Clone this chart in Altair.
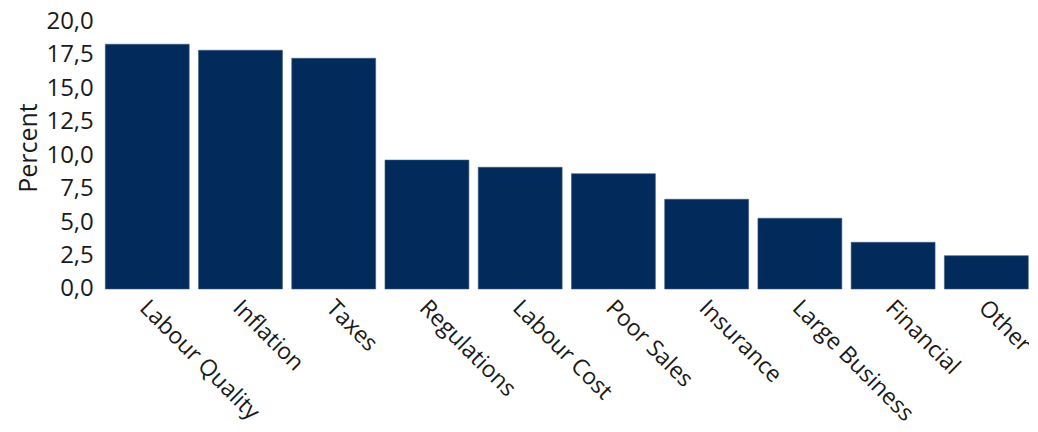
import altair as alt
import pandas as pd

categories = ["Labour Quality", "Inflation", "Taxes", "Regulations", "Labour Cost",
              "Poor Sales", "Insurance", "Large Business", "Financial", "Other"]
values = [18.3, 17.85, 17.25, 9.64, 9.1, 8.62, 6.71, 5.29, 3.49, 2.49]
y_ticks = [0, 2.5, 5, 7.5, 10, 12.5, 15, 17.5, 20]

df = pd.DataFrame({"Category": categories, "Percent": values})

FONT = "Open Sans"

chart = alt.Chart(df).mark_bar(color="#022B5C", stroke="#3d5a80", strokeWidth=0.6).encode(
    x=alt.X("Category:N", sort=categories,
            scale=alt.Scale(paddingInner=0.1, paddingOuter=0),
            axis=alt.Axis(title=None, labelAngle=45, labelAlign="left", labelBaseline="top",
                          labelPadding=7, labelOffset=4, domain=False, ticks=False,
                          labelFont=FONT, labelFontSize=23, labelColor="#1a1a1a",
                          labelOverlap=False)),
    y=alt.Y("Percent:Q", scale=alt.Scale(domain=[0, 20], nice=False),
            axis=alt.Axis(title="Percent", values=y_ticks,
                          labelExpr="replace(format(datum.value, '.1f'), '.', ',')",
                          domain=False, ticks=False, grid=False, labelPadding=12,
                          labelFont=FONT, labelFontSize=24, labelColor="#1a1a1a",
                          titleFont=FONT, titleFontSize=25, titleFontWeight="normal",
                          titleColor="#1a1a1a", titleX=-77, titleY=126,
                          titleBaseline="middle", titleAngle=270)),
).properties(
    width=923, height=267.5,
    padding={"left": 97.3, "top": 13.5, "right": 1, "bottom": 135},
    autosize=alt.AutoSizeParams(type="none"),
).configure_view(stroke=None)

chart.save("out.html", embed_options={"renderer": "svg", "actions": False})
